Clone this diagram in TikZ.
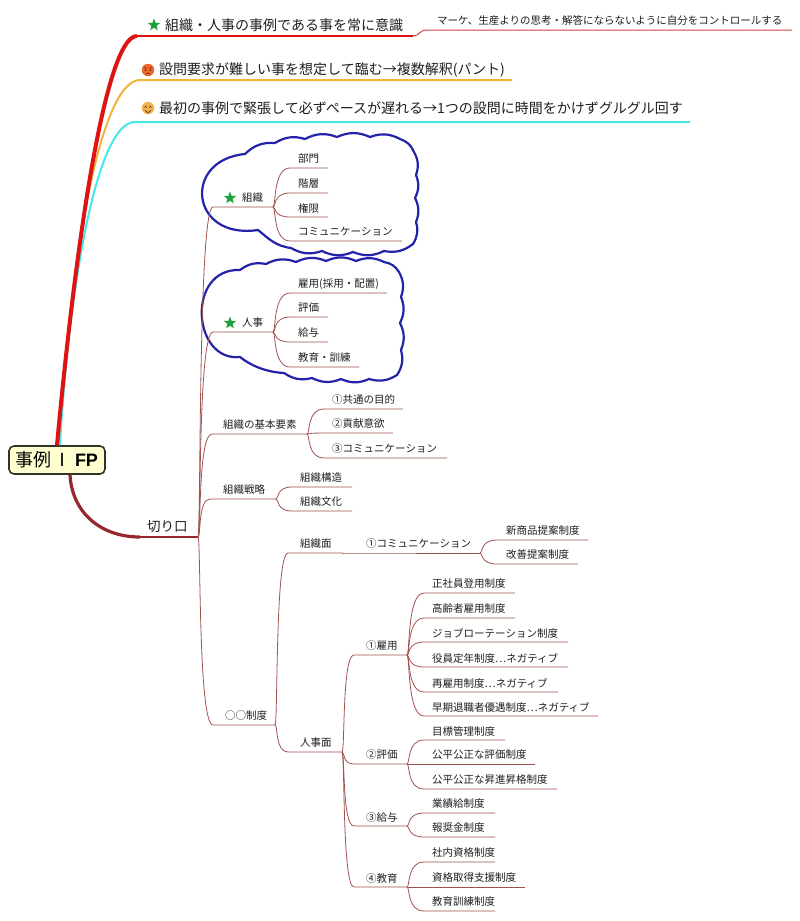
\documentclass[tikz,border=0pt]{standalone}
\usepackage{fontspec}
\setmainfont{Noto Sans CJK JP}
\newfontfamily\arialfont{Liberation Sans}
\usetikzlibrary{calc,shapes.geometric}
\definecolor{brn}{RGB}{160,82,82}
\definecolor{kiriline}{RGB}{150,40,45}
\definecolor{redline}{RGB}{222,20,20}
\definecolor{subred}{RGB}{205,70,70}
\definecolor{orangeline}{RGB}{240,180,60}
\definecolor{cyanline}{RGB}{70,232,232}
\definecolor{cloudblue}{RGB}{35,35,170}
\definecolor{stargreen}{RGB}{30,160,60}
\definecolor{rootfill}{RGB}{255,255,208}
\definecolor{rootdraw}{RGB}{50,50,40}
\definecolor{angryface}{RGB}{238,105,45}
\definecolor{smileface}{RGB}{240,178,80}
\definecolor{facedark}{RGB}{110,40,20}
\newcommand\mmbr[7]{%
  \coordinate (#1s) at (#3,#4);
  \coordinate (#1) at (#5,#4);
  \node[lbl,anchor=west] (#1t) at (#6,#4-9) {#7};
  \draw[conn] (#2) .. controls ($(#2)+(3,0)$) and (#2|-#1s) .. (#1s) -- (#1);
}
\begin{document}
\begin{tikzpicture}[x=1pt,y=-1pt,
  lbl/.style={inner sep=0pt,text=black!88,font=\fontsize{10.5}{12}\selectfont},
  toplbl/.style={inner sep=0pt,text=black!88,font=\fontsize{14}{16}\selectfont},
  conn/.style={draw=brn,line width=0.8pt},
  cloudline/.style={draw=cloudblue,line width=2.2pt,line join=round},
  bmp/.style={bend left=24},
  greenstar/.style={star,star points=5,star point ratio=2.4,fill=stargreen,draw=none,minimum size=13pt,inner sep=0pt},
  rootbox/.style={draw=rootdraw,fill=rootfill,line width=1.6pt,rounded corners=5pt,minimum width=96pt,minimum height=28pt,inner sep=0pt,font=\fontsize{18}{20}\selectfont},
  facenode/.style={circle,minimum size=12.5pt,inner sep=0pt,draw=none}]
\fill[white] (0,0) rectangle (800,921);
\useasboundingbox (0,0) rectangle (800,921);

% clouds
\draw[cloudline] (245,154) to[bmp] (275,143) to[bmp] (305,139)
  to[bmp] (337,137) to[bmp] (370,137) to[bmp] (400,139)
  to[bmp] (414,152) to[bmp] (416,175) to[bmp] (415,198)
  to[bmp] (416,222) to[bmp] (413,244) to[bmp] (384,251)
  to[bmp] (353,252) to[bmp] (322,251) to[bmp] (291,248)
  .. controls (275,246) and (268,238) .. (258,230)
  .. controls (190,240) and (182,160) .. (245,154) -- cycle;
\draw[cloudline] (240,270) to[bmp] (266,264) to[bmp] (296,262)
  to[bmp] (326,261) to[bmp] (356,261) to[bmp] (384,262)
  to[bmp] (399,272) to[bmp] (401,297) to[bmp] (400,323)
  to[bmp] (401,350) to[bmp] (397,375) to[bmp] (369,379)
  to[bmp] (341,379) to[bmp] (312,378) to[bmp] (284,373)
  .. controls (265,372) and (250,365) .. (240,357)
  .. controls (192,362) and (186,268) .. (240,270) -- cycle;

% root
\node[rootbox] (root) at (57,460) {事例\hspace{2pt}Ⅰ\hspace{3pt}{\arialfont\bfseries FP}};

% top branches
\coordinate (t1s) at (137,36);
\coordinate (t1e) at (413,36);
\coordinate (t2s) at (140,80);
\coordinate (t2e) at (512,80);
\coordinate (t3s) at (135,122);
\coordinate (t3e) at (690,122);
\coordinate (subs) at (428,30);
\coordinate (sube) at (792,30);
\draw[cyanline,line width=2pt] ($(root.north)+(3,0)$) .. controls (68,300) and (95,122) .. (t3s) -- (t3e);
\draw[orangeline,line width=2pt] ($(root.north)+(1.5,0)$) .. controls (70,260) and (100,80) .. (t2s) -- (t2e);
\draw[redline,line width=4pt] (root.north) .. controls (75,250) and (105,36) .. (t1s);
\draw[redline,line width=2.8pt] (t1s) -- (t1e);
\draw[subred,line width=1pt] (t1e) .. controls (420,36) and (418,30) .. (subs) -- (sube);

\node[greenstar] (st0) at (154,25) {};
\node[toplbl,anchor=west] (t1t) at (165,25) {組織・人事の事例である事を常に意識};
\node[lbl,anchor=west] (subt) at (437,20) {マーケ、生産よりの思考・解答にならないように自分をコントロールする};

\node[facenode,fill=angryface] (face1) at (148,70) {};
\fill[facedark] (145.6,70) circle (0.9);
\fill[facedark] (150.4,70) circle (0.9);
\draw[facedark,line width=0.6pt] (143.8,67) -- (146.6,68.4);
\draw[facedark,line width=0.6pt] (152.2,67) -- (149.4,68.4);
\draw[facedark,line width=0.6pt] (146,74) .. controls (148,72.5) .. (150,74);
\node[toplbl,anchor=west] (t2t) at (159,70) {設問要求が難しい事を想定して臨む→複数解釈(パント)};

\node[facenode,fill=smileface] (face2) at (148,108) {};
\draw[facedark,line width=0.6pt] (144.6,107.5) .. controls (145.6,105.8) .. (146.6,107.5);
\draw[facedark,line width=0.6pt] (149.4,107.5) .. controls (150.4,105.8) .. (151.4,107.5);
\draw[facedark,line width=0.6pt] (145,110) .. controls (148,113.5) .. (151,110);
\node[toplbl,anchor=west] (t3t) at (159,108) {最初の事例で緊張して必ずペースが遅れる→1つの設問に時間をかけずグルグル回す};

% 切り口
\coordinate (kiris) at (140,537);
\coordinate (kiri) at (198,537);
\draw[kiriline,line width=3.2pt] ($(root.south)+(13,0)$) .. controls (72,512) and (100,537) .. (kiris);
\draw[kiriline,line width=1.5pt] (kiris) -- (kiri);
\node[inner sep=0pt,text=black!88,font=\fontsize{13.5}{15}\selectfont,anchor=west] (kirit) at (147,527) {切り口};

% level 2
\mmbr{soshiki}{kiri}{213}{207}{273}{242}{組織}
\node[greenstar] (st1) at (230,198) {};
\mmbr{jinji}{kiri}{213}{332}{273}{242}{人事}
\node[greenstar] (st2) at (230,323) {};
\mmbr{kihon}{kiri}{212}{434}{307}{223}{組織の基本要素}
\mmbr{senryaku}{kiri}{210}{499}{276}{223}{組織戦略}
\mmbr{seido}{kiri}{213}{725}{275}{225}{○○制度}

% under 組織
\mmbr{bumon}{soshiki}{290}{168}{328}{298}{部門}
\mmbr{kaiso}{soshiki}{290}{193}{328}{298}{階層}
\mmbr{kengen}{soshiki}{290}{217}{328}{298}{権限}
\mmbr{comma}{soshiki}{290}{241}{402}{298}{コミュニケーション}
% under 人事
\mmbr{koyo}{jinji}{290}{293}{387}{298}{雇用(採用・配置)}
\mmbr{hyoka}{jinji}{290}{317}{328}{298}{評価}
\mmbr{kyuyo}{jinji}{290}{342}{328}{298}{給与}
\mmbr{kyoiku}{jinji}{290}{367}{359}{298}{教育・訓練}
% under 組織の基本要素
\mmbr{ka}{kihon}{324}{409}{403}{332}{①共通の目的}
\mmbr{kb}{kihon}{324}{433}{393}{332}{②貢献意欲}
\mmbr{kc}{kihon}{324}{458}{447}{332}{③コミュニケーション}
% under 組織戦略
\mmbr{sa}{senryaku}{292}{487}{352}{300}{組織構造}
\mmbr{sb}{senryaku}{292}{511}{352}{300}{組織文化}
% under ○○制度
\mmbr{sm}{seido}{288}{553}{343}{300}{組織面}
\mmbr{jm}{seido}{288}{752}{342}{300}{人事面}
% under 組織面
\mmbr{smc}{sm}{353}{553}{480}{366}{①コミュニケーション}
\mmbr{na}{smc}{497}{540}{588}{506}{新商品提案制度}
\mmbr{nb}{smc}{497}{564}{578}{506}{改善提案制度}
% under 人事面
\mmbr{ea}{jm}{354}{655}{407}{366}{①雇用}
\mmbr{eb}{jm}{354}{764}{407}{366}{②評価}
\mmbr{ec}{jm}{354}{826}{407}{366}{③給与}
\mmbr{ed}{jm}{354}{887}{407}{366}{④教育}
% under ①雇用
\mmbr{eaa}{ea}{424}{593}{515}{432}{正社員登用制度}
\mmbr{eab}{ea}{424}{618}{515}{432}{高齢者雇用制度}
\mmbr{eac}{ea}{424}{642}{568}{432}{ジョブローテーション制度}
\mmbr{ead}{ea}{424}{667}{568}{432}{役員定年制度…ネガティブ}
\mmbr{eae}{ea}{424}{692}{558}{432}{再雇用制度…ネガティブ}
\mmbr{eaf}{ea}{424}{716}{598}{432}{早期退職者優遇制度…ネガティブ}
% under ②評価
\mmbr{eba}{eb}{424}{740}{505}{432}{目標管理制度}
\mmbr{ebb}{eb}{424}{764}{535}{432}{公平公正な評価制度}
\mmbr{ebc}{eb}{424}{789}{557}{432}{公平公正な昇進昇格制度}
% under ③給与
\mmbr{eca}{ec}{424}{813}{495}{432}{業績給制度}
\mmbr{ecb}{ec}{424}{837}{495}{432}{報奨金制度}
% under ④教育
\mmbr{eda}{ed}{424}{862}{495}{432}{社内資格制度}
\mmbr{edb}{ed}{424}{887}{525}{432}{資格取得支援制度}
\mmbr{edc}{ed}{424}{911}{495}{432}{教育訓練制度}
\end{tikzpicture}
\end{document}
